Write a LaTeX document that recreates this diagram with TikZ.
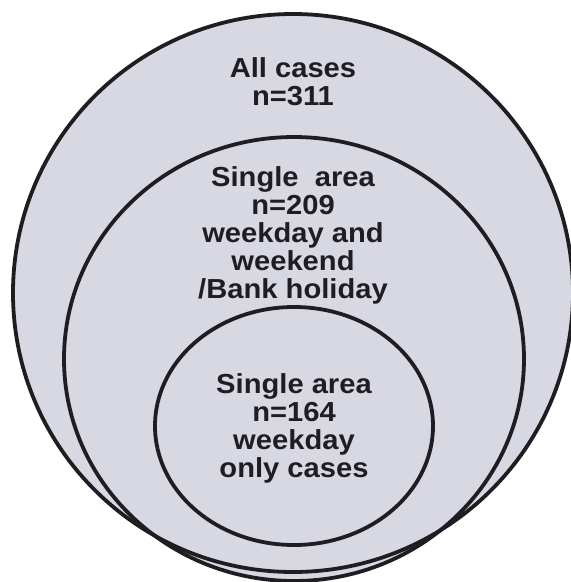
\documentclass[tikz,border=0pt]{standalone}
\usepackage{fontspec}
\setmainfont[FakeStretch=1.06]{Liberation Sans}
\usepackage{tikz}

\definecolor{setfill}{RGB}{216,216,226}
\definecolor{setline}{RGB}{30,30,34}
\tikzset{
  ring/.style={line width=3.8pt,draw=setline},
  setlabel/.style={align=center,inner sep=0pt,text=setline,
    font=\fontsize{27.5}{28}\selectfont\bfseries}
}

\begin{document}
\begin{tikzpicture}[x=1pt,y=-1pt]
				\useasboundingbox (0,0) rectangle (571,582);
				% shading first, so all three outlines stay visible where they cross
				\fill[setfill] (293,293) ellipse [x radius=280pt, y radius=279pt];
				\fill[setfill] (294,359) ellipse [x radius=230pt, y radius=222pt];
				\draw[ring] (293,293) ellipse [x radius=280pt, y radius=279pt];
				\draw[ring] (294,359) ellipse [x radius=230pt, y radius=222pt];
				\draw[ring,fill=setfill] (294,426) ellipse [x radius=139pt, y radius=119pt];
				\node[setlabel] (all) at (293,82) {All cases\\n=311};
				\node[setlabel] (single) at (293,235) {Single\ \ area\\n=209\\weekday and\\weekend\\/Bank holiday};
				\node[setlabel] (weekday) at (294,428) {Single area\\n=164\\weekday\\only cases};
			\end{tikzpicture}
\end{document}
